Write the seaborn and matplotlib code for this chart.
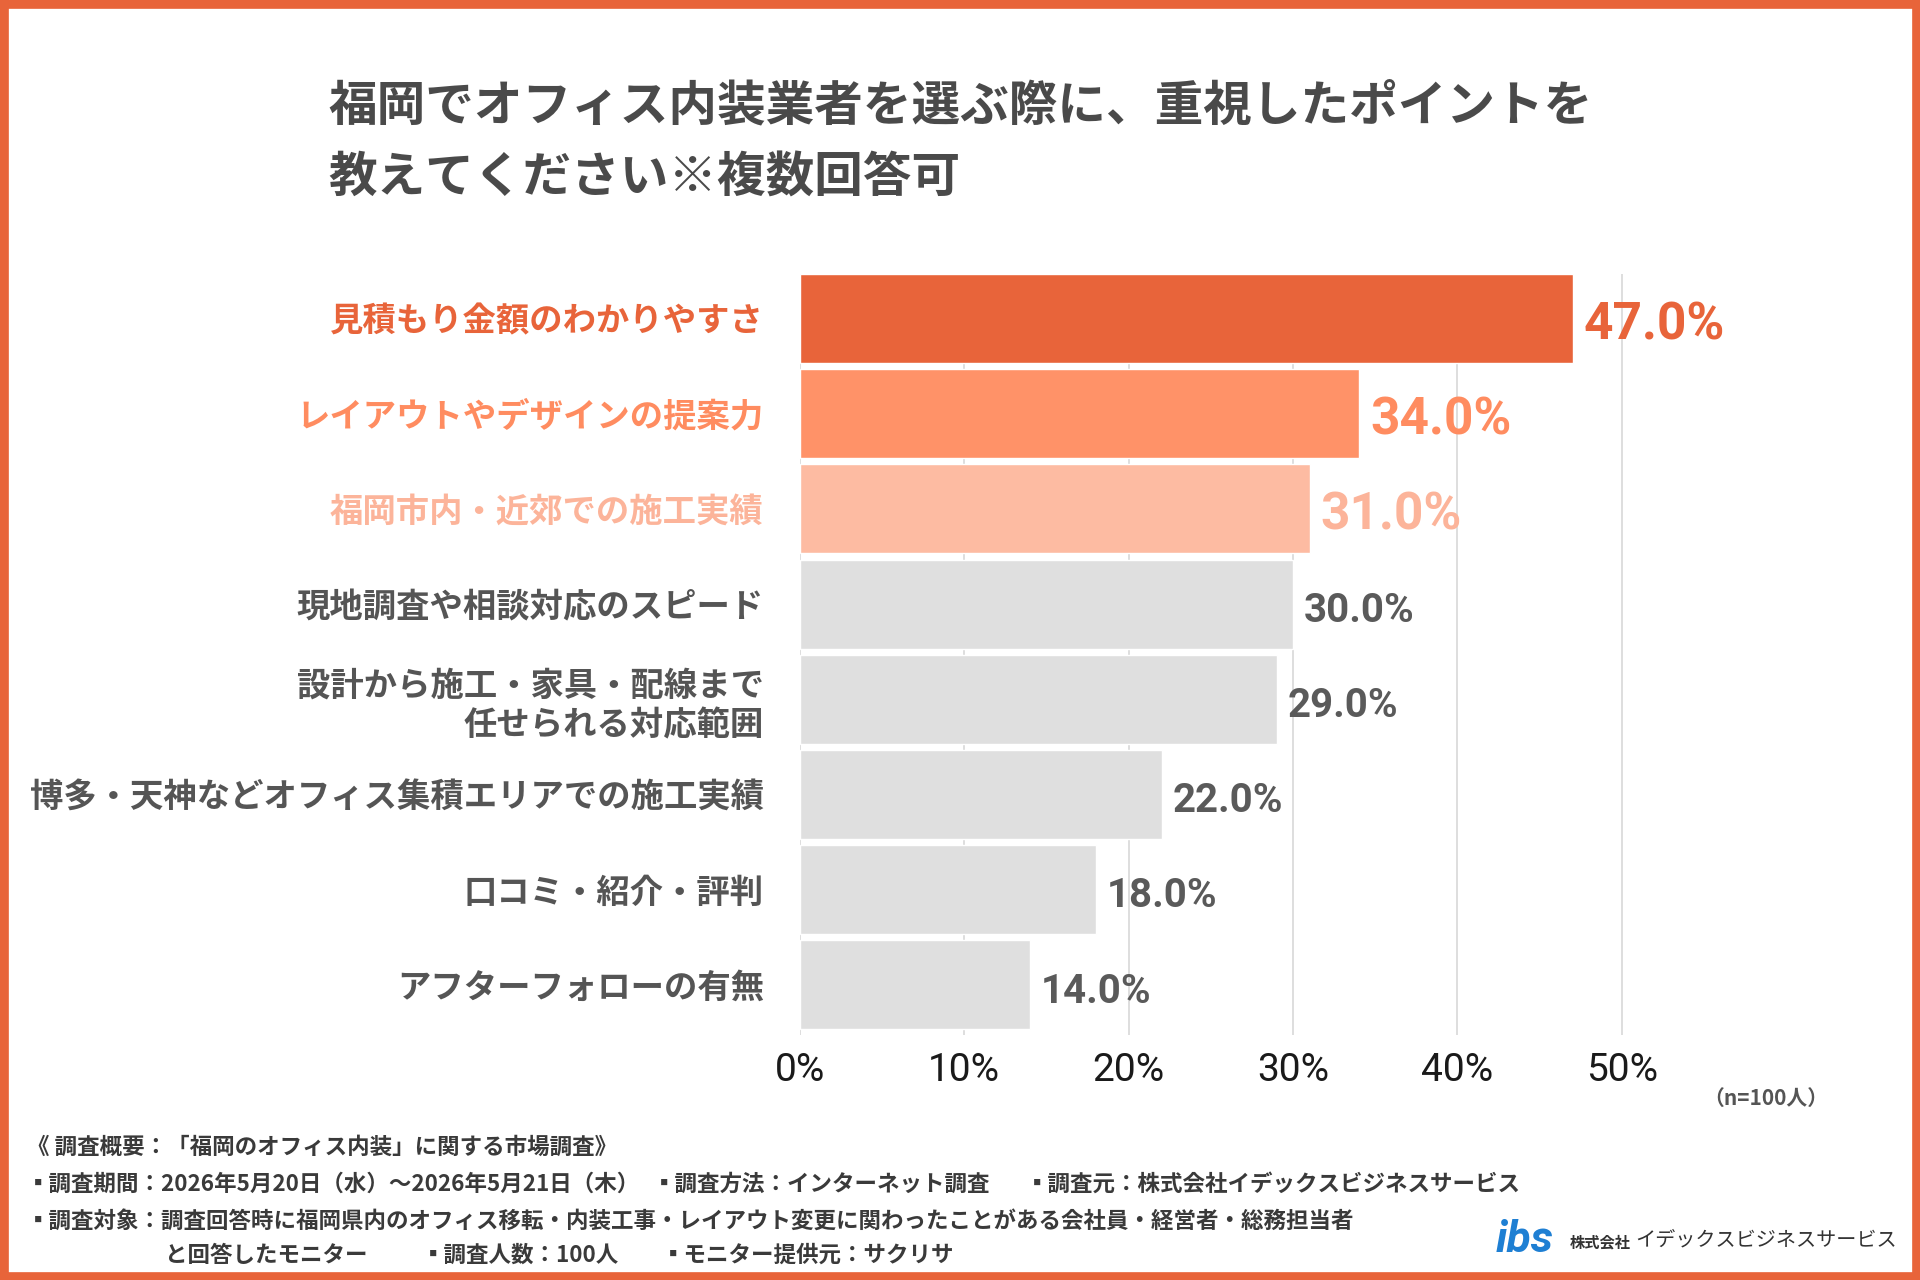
import matplotlib
matplotlib.use('Agg')
import matplotlib.pyplot as plt
import seaborn as sns
import pandas as pd
from matplotlib.patches import Rectangle

# Data
items = [
    '見積もり金額のわかりやすさ',
    'レイアウトやデザインの提案力',
    '福岡市内・近郊での施工実績',
    '現地調査や相談対応のスピード',
    '設計から施工・家具・配線まで\n任せられる対応範囲',
    '博多・天神などオフィス集積エリアでの施工実績',
    '口コミ・紹介・評判',
    'アフターフォローの有無',
]
values = [47.0, 34.0, 31.0, 30.0, 29.0, 22.0, 18.0, 14.0]
bar_colors = ['#E8643A', '#FF9268', '#FDBBA2', '#DFDFDF', '#DFDFDF', '#DFDFDF', '#DFDFDF', '#DFDFDF']
label_colors = ['#E8643A', '#FF8C60', '#FCB49A', '#555555', '#555555', '#555555', '#555555', '#555555']
xticks = [0, 10, 20, 30, 40, 50]

title = '福岡でオフィス内装業者を選ぶ際に、重視したポイントを\n教えてください※複数回答可'

sns.set_theme(style='white')
plt.rcParams['font.family'] = ['Noto Sans CJK JP', 'DejaVu Sans']
num_font = ['Roboto', 'DejaVu Sans']

fig = plt.figure(figsize=(19.2, 12.8), dpi=100)
ax = fig.add_axes([800 / 1920, 1 - 1035 / 1280, 904 / 1920, 761 / 1280])

df = pd.DataFrame({'item': items, 'pct': values})
sns.barplot(data=df, y='item', x='pct', hue='item', palette=bar_colors, legend=False,
            width=0.935, saturation=1, ax=ax, zorder=3)

ax.set_xlim(0, 55)
ax.set_ylim(len(items) - 0.5 + 0.03, -0.47)
ax.set_xticks(xticks)
ax.set_xticklabels([f'{t}%' for t in xticks], fontsize=28, family=num_font, color='#1a1a1a')
ax.grid(axis='x', color='#D8D8D8', linewidth=1.2, zorder=0)
ax.grid(axis='y', visible=False)
for s in ax.spines.values():
    s.set_visible(False)
ax.tick_params(axis='x', length=0, pad=12)
ax.tick_params(axis='y', length=0, pad=26)
ax.set_xlabel('')
ax.set_ylabel('')

for lab, c in zip(ax.get_yticklabels(), label_colors):
    lab.set_color(c)
    lab.set_fontsize(24)
    lab.set_fontweight('bold')
    lab.set_linespacing(1.25)

# value labels
for i, v in enumerate(values):
    big = i < 3
    ax.annotate(f'{v:.1f}%', xy=(v, i), xytext=(8, -5), textcoords='offset points',
                ha='left', va='center', fontsize=37 if big else 29, fontweight='bold',
                family=num_font, color=label_colors[i] if big else '#5A5A5A')

# title
fig.text(328 / 1920, 1 - 142 / 1280, title, ha='left', va='center', fontsize=35,
         fontweight='bold', color='#4A4A4A', linespacing=1.6)

fig.text(1828 / 1920, 1 - 1098 / 1280, '（n=100人）', ha='right', va='center',
         fontsize=15, fontweight='bold', color='#555555')

# footer notes
foot = '#3A3A3A'
fs = 16.2
fig.text(27 / 1920, 1 - 1147 / 1280, '《 調査概要：「福岡のオフィス内装」に関する市場調査》',
         fontsize=fs, fontweight='bold', color=foot, va='center')
fig.text(27 / 1920, 1 - 1184 / 1280, '▪調査期間：2026年5月20日（水）～2026年5月21日（木）',
         fontsize=fs, fontweight='bold', color=foot, va='center')
fig.text(653 / 1920, 1 - 1184 / 1280, '▪調査方法：インターネット調査',
         fontsize=fs, fontweight='bold', color=foot, va='center')
fig.text(1026 / 1920, 1 - 1184 / 1280, '▪調査元：株式会社イデックスビジネスサービス',
         fontsize=fs, fontweight='bold', color=foot, va='center')
fig.text(27 / 1920, 1 - 1221 / 1280,
         '▪調査対象：調査回答時に福岡県内のオフィス移転・内装工事・レイアウト変更に関わったことがある会社員・経営者・総務担当者',
         fontsize=fs, fontweight='bold', color=foot, va='center')
fig.text(165 / 1920, 1 - 1255 / 1280, 'と回答したモニター',
         fontsize=fs, fontweight='bold', color=foot, va='center')
fig.text(422 / 1920, 1 - 1255 / 1280, '▪調査人数：100人',
         fontsize=fs, fontweight='bold', color=foot, va='center')
fig.text(662 / 1920, 1 - 1255 / 1280, '▪モニター提供元：サクリサ',
         fontsize=fs, fontweight='bold', color=foot, va='center')

# logo
fig.text(1496 / 1920, 1 - 1240 / 1280, 'ibs', fontsize=32, fontweight='bold', style='italic',
         color='#1E7FD3', va='center', family=['Roboto', 'DejaVu Sans'])
fig.text(1570 / 1920, 1 - 1242 / 1280, '株式会社', fontsize=11, fontweight='bold',
         color='#333333', va='center')
fig.text(1635 / 1920, 1 - 1240 / 1280, 'イデックスビジネスサービス', fontsize=14.5,
         color='#333333', va='center')

# orange frame
fig.patches.append(Rectangle((0, 0), 1, 1, transform=fig.transFigure, fill=False,
                             edgecolor='#E8643A', linewidth=12, zorder=10))

fig.savefig('out.png', dpi=100)
